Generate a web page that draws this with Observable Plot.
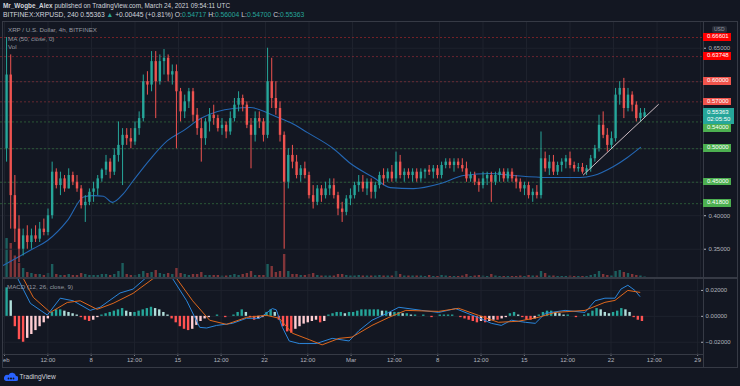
<!DOCTYPE html>
<html><head><meta charset="utf-8">
<script src="https://cdn.jsdelivr.net/npm/d3@7"></script>
<script src="https://cdn.jsdelivr.net/npm/@observablehq/plot@0.6"></script>
<style>
html,body{margin:0;padding:0;background:#131722;}
#wrap{position:relative;width:740px;height:386px;background:#131722;overflow:hidden;font-family:"Liberation Sans",Arial,sans-serif;}
.t{position:absolute;white-space:nowrap;line-height:1;}
.ln{position:absolute;background:#363a45;}
.box{position:absolute;color:#fff;font-size:6px;line-height:7.5px;padding-left:4px;box-sizing:border-box;}
</style></head><body><div id="wrap"></div>
<script>
// ---------- data (8h candles, Feb 1 – Mar 24 2021) ----------
const barOpen = [0.50,0.61,0.43,0.38,0.35,0.37,0.36,0.37,0.365,0.38,
0.375,0.40,0.465,0.445,0.455,0.44,0.46,0.45,0.44,0.415,
0.42,0.435,0.44,0.455,0.468,0.48,0.465,0.49,0.505,0.52,
0.515,0.51,0.53,0.545,0.60,0.595,0.63,0.60,0.63,0.635,
0.61,0.615,0.585,0.555,0.57,0.585,0.55,0.53,0.515,0.54,
0.55,0.545,0.53,0.535,0.525,0.545,0.565,0.575,0.565,0.535,
0.52,0.545,0.54,0.52,0.60,0.575,0.56,0.52,0.45,0.49,
0.48,0.46,0.47,0.46,0.43,0.42,0.44,0.43,0.44,0.445,
0.43,0.41,0.405,0.425,0.43,0.445,0.45,0.44,0.45,0.435,
0.445,0.46,0.455,0.465,0.455,0.48,0.46,0.465,0.46,0.465,
0.455,0.465,0.468,0.465,0.47,0.46,0.475,0.48,0.475,0.48,
0.475,0.47,0.455,0.46,0.45,0.445,0.455,0.46,0.45,0.46,
0.465,0.455,0.465,0.455,0.45,0.44,0.445,0.43,0.435,0.43,
0.485,0.47,0.48,0.465,0.475,0.48,0.485,0.475,0.47,0.472,
0.465,0.47,0.485,0.50,0.535,0.52,0.505,0.515,0.58,0.59,
0.56,0.58,0.565,0.545,0.547];
const barHigh = [0.666,0.64,0.46,0.40,0.38,0.385,0.38,0.385,0.39,0.395,
0.41,0.48,0.47,0.465,0.46,0.47,0.465,0.46,0.445,0.43,
0.44,0.45,0.46,0.47,0.49,0.485,0.50,0.54,0.53,0.53,
0.53,0.54,0.555,0.61,0.615,0.645,0.645,0.64,0.648,0.64,
0.625,0.625,0.59,0.58,0.59,0.59,0.56,0.545,0.545,0.56,
0.565,0.55,0.545,0.54,0.555,0.575,0.585,0.58,0.57,0.545,
0.555,0.555,0.545,0.65,0.635,0.60,0.57,0.525,0.50,0.505,
0.49,0.475,0.48,0.465,0.445,0.445,0.445,0.45,0.455,0.455,
0.435,0.42,0.43,0.44,0.45,0.46,0.46,0.455,0.455,0.45,
0.465,0.47,0.47,0.475,0.495,0.49,0.47,0.47,0.47,0.47,
0.47,0.47,0.475,0.475,0.475,0.48,0.485,0.485,0.485,0.485,
0.485,0.48,0.465,0.465,0.455,0.465,0.465,0.465,0.465,0.47,
0.47,0.47,0.47,0.46,0.455,0.45,0.45,0.44,0.445,0.525,
0.495,0.49,0.49,0.48,0.485,0.49,0.495,0.48,0.478,0.478,
0.475,0.49,0.505,0.55,0.555,0.53,0.525,0.59,0.60,0.605,
0.59,0.585,0.57,0.56,0.56];
const barLow = [0.48,0.38,0.36,0.33,0.34,0.35,0.35,0.36,0.36,0.37,
0.37,0.395,0.44,0.43,0.435,0.44,0.445,0.435,0.41,0.39,
0.415,0.42,0.43,0.45,0.46,0.455,0.46,0.48,0.445,0.505,
0.50,0.505,0.52,0.54,0.58,0.585,0.545,0.595,0.61,0.60,
0.595,0.50,0.54,0.545,0.56,0.54,0.52,0.48,0.505,0.525,
0.535,0.525,0.52,0.515,0.52,0.54,0.555,0.555,0.53,0.47,
0.51,0.53,0.51,0.515,0.56,0.55,0.51,0.35,0.44,0.47,
0.455,0.45,0.455,0.425,0.41,0.415,0.42,0.425,0.43,0.425,
0.40,0.39,0.40,0.415,0.425,0.435,0.435,0.43,0.425,0.425,
0.44,0.445,0.45,0.45,0.45,0.455,0.45,0.455,0.45,0.45,
0.45,0.455,0.46,0.455,0.455,0.455,0.47,0.47,0.465,0.47,
0.465,0.45,0.45,0.445,0.435,0.44,0.445,0.42,0.445,0.45,
0.45,0.45,0.45,0.44,0.435,0.43,0.425,0.42,0.425,0.425,
0.465,0.46,0.46,0.46,0.465,0.47,0.47,0.465,0.465,0.462,
0.46,0.465,0.48,0.495,0.515,0.495,0.50,0.51,0.565,0.545,
0.555,0.555,0.54,0.54,0.547];
const barClose = [0.61,0.43,0.38,0.35,0.37,0.36,0.37,0.365,0.38,0.375,
0.40,0.465,0.445,0.455,0.44,0.46,0.45,0.44,0.415,0.42,
0.435,0.44,0.455,0.468,0.48,0.465,0.49,0.505,0.52,0.515,
0.51,0.53,0.545,0.60,0.595,0.63,0.60,0.63,0.635,0.61,
0.615,0.585,0.555,0.57,0.585,0.55,0.53,0.515,0.54,0.55,
0.545,0.53,0.535,0.525,0.545,0.565,0.575,0.565,0.535,0.52,
0.545,0.54,0.52,0.60,0.575,0.56,0.52,0.45,0.49,0.48,
0.46,0.47,0.46,0.43,0.42,0.44,0.43,0.44,0.445,0.43,
0.41,0.405,0.425,0.43,0.445,0.45,0.44,0.45,0.435,0.445,
0.46,0.455,0.465,0.455,0.48,0.46,0.465,0.46,0.465,0.455,
0.465,0.468,0.465,0.47,0.46,0.475,0.48,0.475,0.48,0.475,
0.47,0.455,0.46,0.45,0.445,0.455,0.46,0.45,0.46,0.465,
0.455,0.465,0.455,0.45,0.44,0.445,0.43,0.435,0.43,0.485,
0.47,0.48,0.465,0.475,0.48,0.485,0.475,0.47,0.472,0.465,
0.47,0.485,0.50,0.535,0.52,0.505,0.515,0.58,0.59,0.56,
0.58,0.565,0.545,0.553,0.55363];
const barVolume = [80,70,45,30,20,12,10,8,8,6,
10,28,8,6,6,8,6,6,10,8,
6,6,6,8,8,6,8,14,30,8,
6,6,8,14,10,12,16,10,8,10,
8,20,10,8,6,8,8,12,6,6,
6,6,5,5,6,8,6,8,10,14,
6,6,6,28,24,12,14,48,14,8,
8,6,6,8,10,6,5,5,5,5,
8,8,6,5,5,6,5,5,5,5,
6,5,5,5,14,8,5,5,5,5,
5,4,6,4,4,6,5,4,4,4,
5,8,4,5,6,5,4,8,5,4,
4,4,4,4,5,4,6,5,5,14,
10,5,5,4,4,4,5,4,4,4,
4,6,8,14,8,6,5,14,16,12,
10,8,6,5,3];
const barHistMilli = [22,12,-8,-18,-20,-17,-14,-11,-8,-5,
-2,3,5,5,4,3,2,1,-1,-3,
-4,-3,-1,1,2,3,4,5,6,4,
3,3,4,5,6,7,6,5,3,1,
-2,-5,-8,-10,-11,-10,-7,-4,-2,-1,
0,1,0,-1,0,1,3,5,3,-1,
-3,-2,-1,3,5,3,-3,-8,-12,-13,
-10,-8,-6,-5,-4,-3,-5,-4,1,2,
3,3,2,3,3,4,5,5,5,5,
5,4,4,3,3,3,2,2,1,1,
0,1,0,-1,0,1,1,1,1,0,
-1,-2,-3,-4,-5,-4,-5,-4,-3,-3,
-2,-1,2,3,1,-1,-3,-3,-2,1,
3,4,4,3,2,1,1,0,-1,0,
1,2,4,6,5,3,2,3,4,6,
5,3,-1,-3,-4];

// MA(50) (days since Feb 1, price)
const maDays = [-0.08,2.33,3.46,5.07,6.36,7.16,7.96,8.69,9.57,10.38,11.75,13.11,14.4,15.77,17.14,18.42,19.79,21.64,23.0,24.38,26.47,27.84,29.69,31.05,32.9,35.08,36.93,39.1,40.95,43.69,46.34,47.39,49.0,50.12,51.17];
const maValues = [0.326,0.351,0.363,0.393,0.428,0.430,0.429,0.420,0.433,0.453,0.485,0.512,0.527,0.545,0.5555,0.56,0.5615,0.5495,0.539,0.524,0.500,0.478,0.457,0.442,0.4405,0.448,0.46,0.463,0.46,0.457,0.457,0.46,0.4735,0.487,0.502];

// MACD and signal lines
const macdDays = [0.16,0.8,1.13,2.09,3.46,4.5,5.55,6.92,7.72,9.33,10.38,11.34,12.15,12.95,13.52,14.72,15.77,16.33,17.14,18.42,19.55,20.6,21.64,21.96,22.45,23.0,23.81,25.18,26.47,27.84,28.64,29.69,31.05,31.86,33.71,35.08,36.44,38.29,39.34,40.14,40.95,42.08,42.88,43.69,45.29,46.9,47.71,48.51,49.32,49.8,50.36,50.93,51.33];
const macdValues = [0.05,0.035,0.028,0.010,0.001,0.014,0.012,0.0046,0.007,0.018,0.021,0.029,0.035,0.036,0.030,0.012,-0.0085,-0.009,-0.007,-0.0054,-0.0015,-0.0015,0.006,0.005,-0.0085,-0.019,-0.021,-0.021,-0.017,-0.019,-0.011,-0.003,0.003,0.007,0.0046,0.003,0.006,-0.001,-0.0054,-0.007,-0.003,-0.0046,-0.0054,0.0023,0.0046,0.003,0.012,0.014,0.014,0.021,0.024,0.020,0.0154];
const signalDays = [0.16,1.53,2.33,3.7,5.07,6.11,7.48,8.77,10.38,11.99,12.95,13.92,15.2,16.57,17.94,19.55,21.16,22.2,23.25,24.62,25.66,27.03,28.08,29.69,31.05,32.42,35.08,36.69,38.29,39.9,41.51,43.12,44.49,46.9,48.51,49.32,50.36,51.33];
const signalValues = [0.045,0.029,0.0146,0.003,0.0107,0.012,0.0054,0.010,0.0177,0.029,0.032,0.029,0.012,-0.003,-0.0062,-0.0008,0.0008,-0.0015,-0.013,-0.018,-0.022,-0.017,-0.016,-0.007,-0.0008,0.0046,0.0038,0.0062,0.0008,-0.0046,-0.0038,-0.0008,0.003,0.0046,0.0108,0.0123,0.020,0.0185];

// drawn levels and trend line
const levelValues = [0.66601,0.63748,0.60,0.57,0.54,0.50,0.45,0.418];
const lastPrice = 0.55363;
const countdown = "02:05:50";
const trendDays = [46.58,52.61];
const trendValues = [0.461,0.566];

// axes
const priceTicks = [0.65,0.40,0.35];
const gridPrices = [0.35,0.40,0.45,0.50,0.55,0.60,0.65];
const macdTicks = [0.02,0,-0.02];
const timeTickDays = [0,3.5,7,10.5,14,17.5,21,24.5,28,31.5,35,38.5,42,45.5,49,52.5,56];
const timeTickLabels = ["Feb","12:00","8","12:00","15","12:00","22","12:00","Mar","12:00","8","12:00","15","12:00","22","12:00","29"];

// ---------- styles ----------
const UP = "#26a69a", DOWN = "#ef5350";
const levelBoxColors = ["#ff0000","#ff0000","#f0544c","#f0544c","#4caf50","#4caf50","#4caf50","#4caf50"];
const levelLineColors = ["#c22a2a","#b0303a","#a8383e","#a8383e","#3d8a45","#3d8a45","#3d8a45","#3d8a45"];
const FONT = '"Liberation Sans", Arial, sans-serif';
const GRID = "#1e222d";

// ---------- build ----------
const t0 = Date.UTC(2021,1,1);
const dayMs = 864e5;
const toDate = d => new Date(t0 + d*dayMs);
const bars = barClose.map((c,i) => ({
  t: new Date(t0 + (i*8+4)*3600e3),
  open: barOpen[i], high: barHigh[i], low: barLow[i], close: c,
  volume: barVolume[i], hist: barHistMilli[i]/1000
}));
bars.forEach((b,i) => {
  const prev = i ? bars[i-1].hist : b.hist;
  b.hcol = b.hist >= 0 ? (b.hist >= prev ? "#26a69a" : "#b2dfdb") : (b.hist <= prev ? "#ff5252" : "#ffcdd2");
  b.col = b.close >= b.open ? UP : DOWN;
});
const maData = maDays.map((d,i) => ({t: toDate(d), v: maValues[i]}));
const macdData = macdDays.map((d,i) => ({t: toDate(d), v: macdValues[i]}));
const signalData = signalDays.map((d,i) => ({t: toDate(d), v: signalValues[i]}));
const trendData = trendDays.map((d,i) => ({t: toDate(d), v: trendValues[i]}));
const levels = levelValues.map((v,i) => ({v, i}));
const tickDates = timeTickDays.map(toDate);
const tickLabelMap = new Map(tickDates.map((d,i) => [+d, timeTickLabels[i]]));
const xDomain = [toDate(-0.322), toDate(56.24)];
const fmt5 = d3.format(".5f");

const wrap = document.getElementById("wrap");
function place(el, left, top){ el.style.position="absolute"; el.style.left=left+"px"; el.style.top=top+"px"; wrap.appendChild(el); return el; }
function text(str, left, top, css){ const e=document.createElement("div"); e.className="t"; e.innerHTML=str; e.style.cssText += css||""; return place(e,left,top); }
const svgStyle = {background:"transparent", overflow:"hidden", color:"#b2b5be", fontSize:"6px", fontFamily:FONT};

// volume (behind price)
const volPlot = Plot.plot({
  width:740, height:60, margin:0, marginRight:37, style:svgStyle,
  x:{type:"utc", domain:xDomain, axis:null},
  y:{domain:[0,120], axis:null},
  color:{type:"identity"},
  marks:[ Plot.ruleX(bars, {x:"t", y1:0, y2:"volume", stroke:"col", strokeOpacity:0.5, strokeWidth:2.4}) ]
});
place(volPlot, 0, 218);

// price pane
const pricePlot = Plot.plot({
  width:740, height:257, margin:0, marginRight:37, style:svgStyle,
  x:{type:"utc", domain:xDomain, axis:null},
  y:{domain:[0.3063,0.6899], axis:"right", ticks:priceTicks, tickFormat:fmt5, tickSize:2, tickPadding:3, label:null},
  color:{type:"identity"},
  marks:[
    Plot.ruleX(tickDates, {stroke:GRID}),
    Plot.ruleY(gridPrices, {stroke:GRID}),
    Plot.ruleY(levels, {y:"v", stroke:d => levelLineColors[d.i], strokeOpacity:0.55, strokeDasharray:"2,2"}),
    Plot.line(maData, {x:"t", y:"v", stroke:"#2467b4", strokeWidth:1.1, curve:"monotone-x"}),
    Plot.ruleX(bars, {x:"t", y1:"low", y2:"high", stroke:"col", strokeWidth:1}),
    Plot.ruleX(bars, {x:"t", y1:"open", y2:"close", stroke:"col", strokeWidth:2.4}),
    Plot.line(trendData, {x:"t", y:"v", stroke:"#cdbcc3", strokeWidth:1})
  ]
});
place(pricePlot, 0, 21);

// MACD pane + time axis (clipped at the frame's left edge)
const macdPlot = Plot.plot({
  width:740, height:90, margin:0, marginRight:37, marginBottom:14, style:svgStyle,
  x:{type:"utc", domain:xDomain, ticks:tickDates, tickFormat:d => tickLabelMap.get(+d), tickSize:2, tickPadding:2, label:null},
  y:{domain:[-0.0292,0.0292], axis:"right", ticks:macdTicks, tickFormat:fmt5, tickSize:2, tickPadding:3, label:null},
  color:{type:"identity"},
  marks:[
    Plot.ruleX(tickDates, {stroke:GRID}),
    Plot.ruleY(macdTicks, {stroke:GRID}),
    Plot.ruleX(bars, {x:"t", y1:0, y2:"hist", stroke:"hcol", strokeWidth:2.4}),
    Plot.line(macdData, {x:"t", y:"v", stroke:"#2a86dc", strokeWidth:1}),
    Plot.line(signalData, {x:"t", y:"v", stroke:"#e0681c", strokeWidth:1})
  ]
});
const macdBox = document.createElement("div");
macdBox.style.cssText = "overflow:hidden;width:737px;height:90px;";
macdPlot.style.marginLeft = "-3px";
macdBox.appendChild(macdPlot);
place(macdBox, 3, 278);

// frame lines
function line(l,t,w,h){ const e=document.createElement("div"); e.className="ln"; e.style.width=w+"px"; e.style.height=h+"px"; return place(e,l,t); }
line(2,21,736,1); line(2,367,736,1); line(2,21,1,347); line(737,21,1,347);
line(703,21,1,347); line(2,277,736,1.5); line(2,354,702,1);

// price-axis label boxes
const ys = pricePlot.scale("y");
const curY = ys.apply(lastPrice) + 21;
const curTop = curY - 4;
const cur = document.createElement("div"); cur.className="box";
cur.style.cssText += "background:#26a69a;width:31px;height:15.5px;padding-top:0.5px;";
cur.innerHTML = fmt5(lastPrice) + "<br>" + countdown;
place(cur, 703, curTop);
levels.forEach(d => {
  let y = ys.apply(d.v) + 21;
  if (d.v < lastPrice && y - 3.75 < curTop + 16) y = curTop + 16 + 3.75;
  const b = document.createElement("div"); b.className="box";
  b.style.cssText += "background:"+levelBoxColors[d.i]+";width:28px;height:7.5px;";
  b.textContent = fmt5(d.v);
  place(b, 703, y - 3.75);
});
// USD badge
text("USD", 712, 25.5, "font-size:5px;color:#9598a1;background:#2a2e39;border-radius:2px;padding:1px 2px;");

// header
text('<b>Mr_Wogbe_Alex</b> published on TradingView.com, March 24, 2021 09:54:11 UTC', 3, 2.6, "font-size:6.4px;color:#d1d4dc;");
const tc = "color:#26a69a";
text('BITFINEX:XRPUSD, 240 0.55363 <span style="'+tc+'">▲</span> +0.00445 (+0.81%) O:<span style="'+tc+'">0.54717</span> H:<span style="'+tc+'">0.56004</span> L:<span style="'+tc+'">0.54700</span> C:<span style="'+tc+'">0.55363</span>', 3, 11.6, "font-size:6.75px;color:#d1d4dc;");

// pane legends
text("XRP / U.S. Dollar, 4h, BITFINEX", 8, 26.5, "font-size:6.2px;color:#9598a1;");
text("MA (50, close, 0)", 8, 35.8, "font-size:6.2px;color:#9598a1;");
text("Vol", 8, 43.7, "font-size:6.2px;color:#9598a1;");
text("MACD (12, 26, close, 9)", 7, 283.7, "font-size:6.2px;color:#9598a1;");

// footer
const logo = document.createElementNS("http://www.w3.org/2000/svg","svg");
logo.setAttribute("width","14"); logo.setAttribute("height","10");
logo.innerHTML = '<path d="M2 9 h10 a2.5 2.5 0 0 0 0-5 a4 4 0 0 0-7.5-1 a3 3 0 0 0-2.5 6z" fill="#2962ff"/><circle cx="7" cy="6.5" r="1.1" fill="#131722"/><circle cx="4.5" cy="6.5" r="0.9" fill="#131722"/><circle cx="9.5" cy="6.5" r="0.9" fill="#131722"/>';
place(logo, 4, 372);
text("TradingView", 19.5, 374, "font-size:6.6px;color:#d1d4dc;");
</script></body></html>
